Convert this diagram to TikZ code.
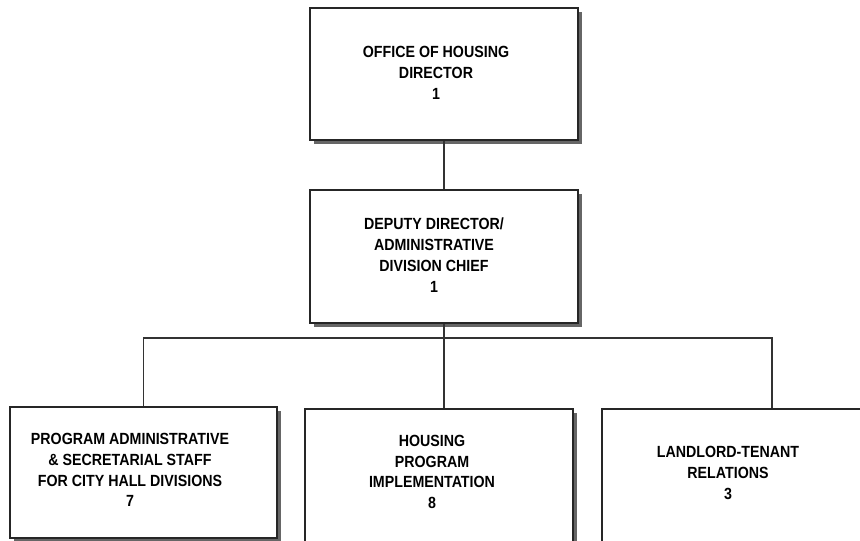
\documentclass[tikz,border=0pt]{standalone}
\usepackage{fontspec}
\setmainfont{Liberation Sans}
\newfontfamily\orgfont{Liberation Sans}[FakeStretch=0.88]
\usepackage{tikz}
\usetikzlibrary{shadows}

\begin{document}
\begin{tikzpicture}[
  unit/.style={draw=black!85,line width=0.9pt,fill=white,minimum width=8.04cm,
               minimum height=3.96cm,inner sep=0pt,
               drop shadow={shadow xshift=0.11cm,shadow yshift=-0.11cm,
                            fill=black!60,opacity=1}},
  lbl/.style={align=center,inner sep=0pt,
              font=\orgfont\bfseries\fontsize{13.8}{17.8}\selectfont},
  link/.style={draw=black!80,line width=0.9pt}
]
\useasboundingbox (0,0) rectangle (25.8,-16.23);
% boxes
\node[unit] (director) at (13.32,-2.22) {};
\node[unit,minimum height=3.99cm] (deputy) at (13.32,-7.695) {};
\node[unit,minimum width=8.01cm,minimum height=3.93cm] (progadmin) at (4.305,-14.175) {};
\node[unit,minimum height=3.99cm] (housing) at (13.17,-14.265) {};
\node[unit,minimum height=3.99cm] (landlord) at (22.08,-14.265) {};
% texts
\node[lbl] (dirtext) at (13.08,-2.19) {OFFICE OF HOUSING\\DIRECTOR\\1};
\node[lbl] (deptext) at (13.02,-7.65) {DEPUTY DIRECTOR/\\ADMINISTRATIVE\\DIVISION CHIEF\\1};
\node[lbl] (progtext) at (3.9,-14.1)
  {PROGRAM ADMINISTRATIVE\\\& SECRETARIAL STAFF\\FOR CITY HALL DIVISIONS\\7};
\node[lbl] (houstext) at (12.96,-14.16) {HOUSING\\PROGRAM\\IMPLEMENTATION\\8};
\node[lbl] (landtext) at (21.84,-14.19) {LANDLORD-TENANT\\RELATIONS\\3};
% connectors
\coordinate (tapR) at (23.16,-10.14);
\draw[link] (director.south) -- (deputy.north);
\draw[link] (deputy.south) -- (deputy.south |- housing.north);
\draw[link] (progadmin.north) |- (tapR) -- (tapR |- landlord.north);
\end{tikzpicture}
\end{document}
